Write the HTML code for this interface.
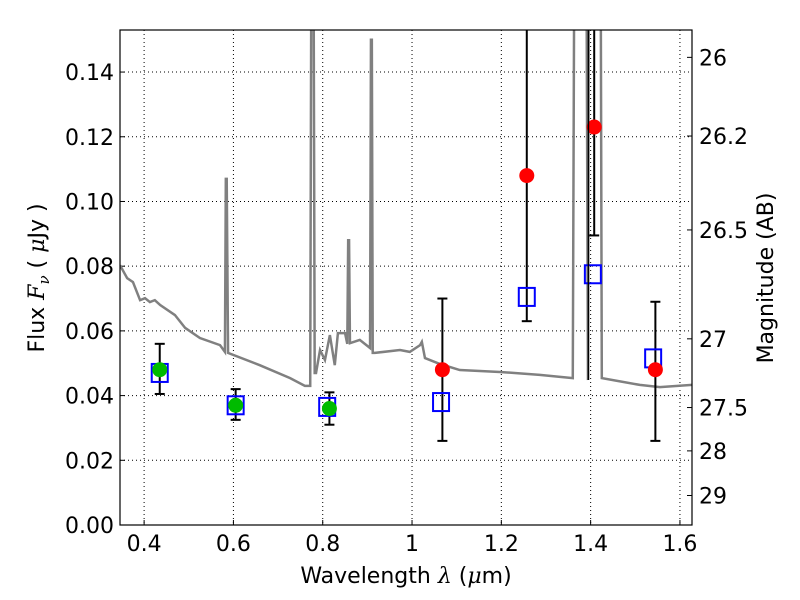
<!DOCTYPE html>
<html><head><meta charset="utf-8"><style>
body{margin:0;background:#fff;}
svg{display:block;font-family:"DejaVu Sans","Liberation Sans",sans-serif;}
</style></head><body>
<svg id="chart" width="800" height="600"></svg>
<script>
const specLam=[0.346,0.362,0.375,0.391,0.402,0.413,0.424,0.436,0.469,0.492,0.525,0.570,0.581,0.583,0.585,0.588,0.659,0.727,0.760,0.772,0.775,0.779,0.782,0.785,0.794,0.805,0.816,0.827,0.834,0.850,0.855,0.857,0.859,0.861,0.883,0.906,0.908,0.910,0.912,0.917,0.973,0.995,1.018,1.022,1.029,1.062,1.107,1.197,1.286,1.360,1.364,1.390,1.394,1.396,1.398,1.422,1.425,1.510,1.555,1.627];
const specFlux=[0.0803,0.0763,0.0751,0.0695,0.0701,0.0689,0.0695,0.0680,0.0649,0.0609,0.0578,0.0556,0.0535,0.107,0.107,0.0532,0.0494,0.0454,0.0430,0.0430,0.2,0.2,0.0470,0.0470,0.0541,0.0510,0.0587,0.0494,0.0593,0.0593,0.0560,0.088,0.088,0.0562,0.0572,0.0547,0.150,0.150,0.0532,0.0532,0.0541,0.0535,0.0556,0.0566,0.0516,0.0498,0.0479,0.0473,0.0464,0.0454,0.2,0.2,0.0448,0.2,0.2,0.2,0.0454,0.0433,0.0426,0.0433];
const greenLam=[0.435,0.605,0.815];
const greenFlux=[0.048,0.037,0.036];
const greenLo=[0.0405,0.0325,0.031];
const greenHi=[0.056,0.042,0.041];
const blueLam=[0.435,0.605,0.81,1.065,1.257,1.405,1.54];
const blueFlux=[0.047,0.037,0.0365,0.038,0.0705,0.0775,0.0515];
const redLam=[1.068,1.257,1.408,1.545];
const redFlux=[0.048,0.108,0.123,0.048];
const redLo=[0.026,0.063,0.0895,0.026];
const redHi=[0.070,0.2,0.2,0.069];
const xTicks=[0.4,0.6,0.8,1.0,1.2,1.4,1.6];
const xTickLabels=["0.4","0.6","0.8","1","1.2","1.4","1.6"];
const yTicks=[0,0.02,0.04,0.06,0.08,0.10,0.12,0.14];
const yTickLabels=["0.00","0.02","0.04","0.06","0.08","0.10","0.12","0.14"];
const magTicks=[26,26.2,26.5,27,27.5,28,29];
const magTickLabels=["26","26.2","26.5","27","27.5","28","29"];

const L=120,R=692,T=30,B=525,xmin=0.346,xmax=1.627,ymin=0,ymax=0.153;
const X=v=>L+(v-xmin)/(xmax-xmin)*(R-L);
const Y=v=>B-(v-ymin)/(ymax-ymin)*(B-T);
const svg=document.getElementById('chart');
const NS="http://www.w3.org/2000/svg";
function mk(tag,attrs,parent){const e=document.createElementNS(NS,tag);for(const k in attrs)e.setAttribute(k,attrs[k]);(parent||svg).appendChild(e);return e;}
const defs=mk('defs',{});const cp=mk('clipPath',{id:'c'},defs);mk('rect',{x:L,y:T,width:R-L,height:B-T},cp);

xTicks.forEach((t,i)=>{const g=mk('line',{x1:X(t),x2:X(t),y1:T,y2:B,stroke:'#000','stroke-dasharray':'1,3','stroke-width':1});

const tk=mk('line',{x1:X(t),x2:X(t),y1:B,y2:B-5,stroke:'#000'});
const tx=mk('text',{x:X(t),y:B+26,'text-anchor':'middle','font-size':22});tx.textContent=xTickLabels[i];
});
yTicks.forEach((t,i)=>{const g=mk('line',{x1:L,x2:R,y1:Y(t),y2:Y(t),stroke:'#000','stroke-dasharray':'1,3','stroke-width':1});

const tk=mk('line',{x1:L,x2:L+5,y1:Y(t),y2:Y(t),stroke:'#000'});
const tx=mk('text',{x:L-6,y:Y(t)+8,'text-anchor':'end','font-size':22});tx.textContent=yTickLabels[i];
});
magTicks.forEach((m,i)=>{const f=Math.pow(10,(23.9-m)/2.5);const y=Y(f);
const tk=mk('line',{x1:R,x2:R-5,y1:y,y2:y,stroke:'#000'});
const tx=mk('text',{x:R+7,y:y+8,'font-size':22});tx.textContent=magTickLabels[i];
});

const pg=mk('g',{'clip-path':'url(#c)'});
const sp=mk('polyline',{points:specLam.map((l,i)=>X(l)+','+Y(specFlux[i])).join(' '),fill:'none',stroke:'#808080','stroke-width':2.5},pg);


function errbar(l,lo,hi,name){const x=X(l);
const e=mk('line',{x1:x,x2:x,y1:Y(lo),y2:Y(hi),stroke:'#000','stroke-width':2},pg);
[lo,hi].forEach(v=>{const c=mk('line',{x1:x-5,x2:x+5,y1:Y(v),y2:Y(v),stroke:'#000','stroke-width':2},pg);});}
greenLam.forEach((l,i)=>errbar(l,greenLo[i],greenHi[i],'green-error-bar'));
redLam.forEach((l,i)=>errbar(l,redLo[i],redHi[i],'red-error-bar'));
blueLam.forEach((l,i)=>{const s=mk('rect',{x:X(l)-8,y:Y(blueFlux[i])-9,width:16,height:18,fill:'none',stroke:'#0000ff','stroke-width':2},pg);
});
greenLam.forEach((l,i)=>{const c=mk('circle',{cx:X(l),cy:Y(greenFlux[i]),r:7.5,fill:'#00bb00'},pg);
});
redLam.forEach((l,i)=>{const c=mk('circle',{cx:X(l),cy:Y(redFlux[i]),r:7.5,fill:'#ff0000'},pg);
});
const vl=mk('line',{x1:X(1.395),x2:X(1.395),y1:T,y2:Y(0.0448),stroke:'#000','stroke-width':1.5},pg);


const fr=mk('rect',{x:L,y:T,width:R-L,height:B-T,fill:'none',stroke:'#000','stroke-width':1.2});

const xl=mk('text',{x:406,y:583,'text-anchor':'middle','font-size':22});
xl.innerHTML='Wavelength  <tspan font-style="italic" font-family="DejaVu Serif, serif">λ</tspan> (<tspan font-style="italic" font-family="DejaVu Serif, serif">μ</tspan>m)';

const yl=mk('text',{x:0,y:0,'text-anchor':'middle','font-size':22,transform:'translate(44,278) rotate(-90)'});
yl.innerHTML='Flux  <tspan font-style="italic" font-family="DejaVu Serif, serif">F<tspan font-size="15" dy="5">ν</tspan></tspan><tspan dy="-5">  (  </tspan><tspan font-style="italic" font-family="DejaVu Serif, serif">μ</tspan>Jy )';

const ml=mk('text',{x:0,y:0,'text-anchor':'middle','font-size':22,transform:'translate(773,278) rotate(-90)'});
ml.textContent='Magnitude (AB)';

</script>
</body></html>
